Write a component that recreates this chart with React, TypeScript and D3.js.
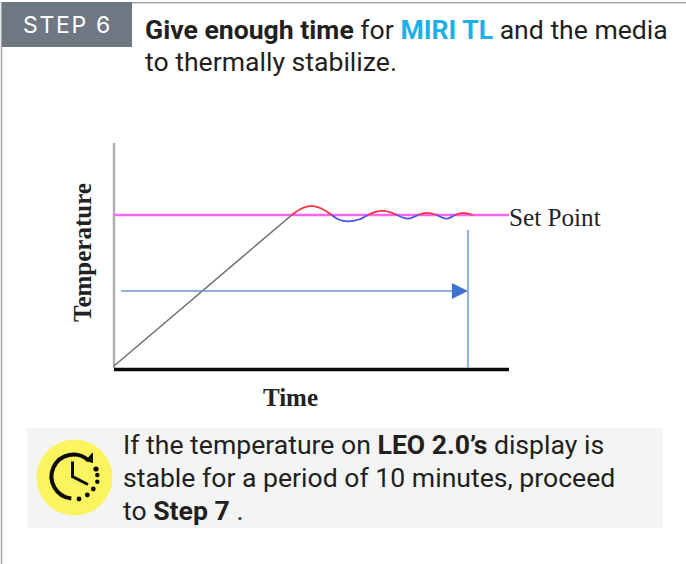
import React from "react";
import * as d3 from "d3";

const rampTime = [0, 45];
const rampTemp = [0.9, 68];
const setPointTime = [0, 100];
const setPointTemp = [68, 68];
const redArcs = [
  { time: [45, 47.5, 50, 52.5, 55.1], temp: [68, 70.9, 72.1, 70.9, 68] },
  { time: [64.3, 66, 68.1, 70, 71.6], temp: [68, 69.3, 69.8, 69.2, 68] },
  { time: [77, 79.2, 81.7], temp: [68, 68.9, 68] },
  { time: [86.3, 88.4, 90.8], temp: [68, 68.9, 68] },
];
const blueArcs = [
  { time: [55.1, 57, 59.2, 62, 64.3], temp: [68, 65.9, 65.2, 66, 68] },
  { time: [71.6, 74.4, 77], temp: [68, 66.4, 68] },
  { time: [81.7, 84.2, 86.3], temp: [68, 66.4, 68] },
];
const durationY = 34.2;
const durationStart = 1.8;
const durationEnd = 89.6;
const markerTop = 61.3;

const titleBold = "Give enough time";
const titleAccent = "MIRI TL";
const noteLeo = "LEO 2.0’s";
const noteStep = "Step 7";

const x = d3.scaleLinear().domain([0, 100]).range([114, 509]);
const y = d3.scaleLinear().domain([0, 100]).range([368, 143]);

const straight = d3.line<[number, number]>().x((d) => x(d[0])).y((d) => y(d[1]));
const smooth = d3
  .line<[number, number]>()
  .x((d) => x(d[0]))
  .y((d) => y(d[1]))
  .curve(d3.curveCatmullRom);
const pairs = (a: number[], b: number[]) => a.map((t, i) => [t, b[i]] as [number, number]);

const arc = d3.arc();
const clockArc = arc({ innerRadius: 22, outerRadius: 22, startAngle: -Math.PI + 0.1, endAngle: Math.PI * 0.24 }) as string;

export default function App() {
  const textFont = "Roboto, sans-serif";
  const serif = "'Liberation Serif', serif";
  const bodySize = 26.6;
  return (
    <svg
      width={686}
      height={564}
      style={{ position: "absolute", left: 0, top: 0, background: "#fff", display: "block" }}
    >
      <line x1={1.5} x2={1.5} y1={2} y2={564} stroke="#a4a8ae" strokeWidth={1.5} />
      <line x1={2} x2={686} y1={2.7} y2={2.7} stroke="#a4a8ae" strokeWidth={1.5} />
      <rect x={2} y={2} width={130} height={45} fill="#6f7782" />
      <text x={23} y={33} fontFamily="Inter, sans-serif" fontSize={23} letterSpacing={1.7} fill="#fff">
        STEP 6
      </text>
      <text x={145} y={39} fontFamily={textFont} fontSize={bodySize} fill="#231f20">
        <tspan fontWeight={700}>{titleBold}</tspan> for{" "}
        <tspan fontWeight={700} fill="#1cb0e9">{titleAccent}</tspan> and the media
      </text>
      <text x={145} y={71} fontFamily={textFont} fontSize={bodySize} fill="#231f20">
        to thermally stabilize.
      </text>

      <line x1={x(0)} x2={x(0)} y1={y(100)} y2={y(0)} stroke="#b0b0b0" strokeWidth={2.5} />
      <line x1={x(0)} x2={x(100)} y1={369.5} y2={369.5} stroke="#0a0a0a" strokeWidth={3.4} />

      <path d={straight(pairs(setPointTime, setPointTemp)) ?? ""} fill="none" stroke="#ff66f0" strokeWidth={2.6} />
      <path d={straight(pairs(rampTime, rampTemp)) ?? ""} fill="none" stroke="#6e6e6e" strokeWidth={1.5} />
      {redArcs.map((a, i) => (
        <path key={i} d={smooth(pairs(a.time, a.temp)) ?? ""} fill="none" stroke="#f5333f" strokeWidth={1.8} />
      ))}
      {blueArcs.map((a, i) => (
        <path key={i} d={smooth(pairs(a.time, a.temp)) ?? ""} fill="none" stroke="#4a55e8" strokeWidth={1.8} />
      ))}

      <line x1={x(durationStart)} x2={x(durationEnd) - 14} y1={y(durationY)} y2={y(durationY)} stroke="#6f94d8" strokeWidth={1.5} />
      <path
        d={`M${x(durationEnd)},${y(durationY)}L${x(durationEnd) - 16},${y(durationY) - 8}L${x(durationEnd) - 16},${y(durationY) + 8}Z`}
        fill="#3e74cf"
      />
      <line x1={x(durationEnd)} x2={x(durationEnd)} y1={y(markerTop)} y2={y(0)} stroke="#6f94d8" strokeWidth={1.5} />

      <text x={509} y={225.5} fontFamily={serif} fontSize={25.2} fill="#222">
        Set Point
      </text>
      <text x={290.5} y={406} textAnchor="middle" fontFamily={serif} fontWeight={700} fontSize={25} fill="#222">
        Time
      </text>
      <text
        transform="translate(91,252.5) rotate(-90)"
        textAnchor="middle"
        fontFamily={serif}
        fontWeight={700}
        fontSize={25}
        fill="#222"
      >
        Temperature
      </text>

      <rect x={27} y={428} width={636} height={100} fill="#f3f5f5" />
      <circle cx={74.5} cy={477.5} r={38} fill="#fcf45e" />
      <g transform="translate(74.5,477)" fill="none" stroke="#0b0b0b" strokeWidth={4}>
        <g transform="translate(-1,-0.5)">
          <path d={clockArc} strokeWidth={4} />
          <path d="M-1,-15V0L14.5,8" strokeWidth={3} />
        </g>
        <path d="M18,-24L18,-14.5L11.5,-16.5Z" fill="#0b0b0b" stroke="#0b0b0b" strokeWidth={1} />
        <g fill="#0b0b0b" stroke="none">
          <circle cx={21.5} cy={-8} r={2.6} />
          <circle cx={22.8} cy={-2} r={2.2} />
          <circle cx={22.8} cy={4.7} r={2.2} />
          <circle cx={18.8} cy={12} r={2.4} />
          <circle cx={12.8} cy={18} r={2.4} />
          <circle cx={4.5} cy={22} r={2.4} />
        </g>
      </g>
      <text x={123} y={454} fontFamily={textFont} fontSize={bodySize} fill="#231f20">
        If the temperature on <tspan fontWeight={700}>{noteLeo}</tspan> display is
      </text>
      <text x={123} y={487} fontFamily={textFont} fontSize={bodySize} fill="#231f20">
        stable for a period of 10 minutes, proceed
      </text>
      <text x={123} y={520} fontFamily={textFont} fontSize={bodySize} fill="#231f20">
        to <tspan fontWeight={700}>{noteStep}</tspan> .
      </text>
    </svg>
  );
}
